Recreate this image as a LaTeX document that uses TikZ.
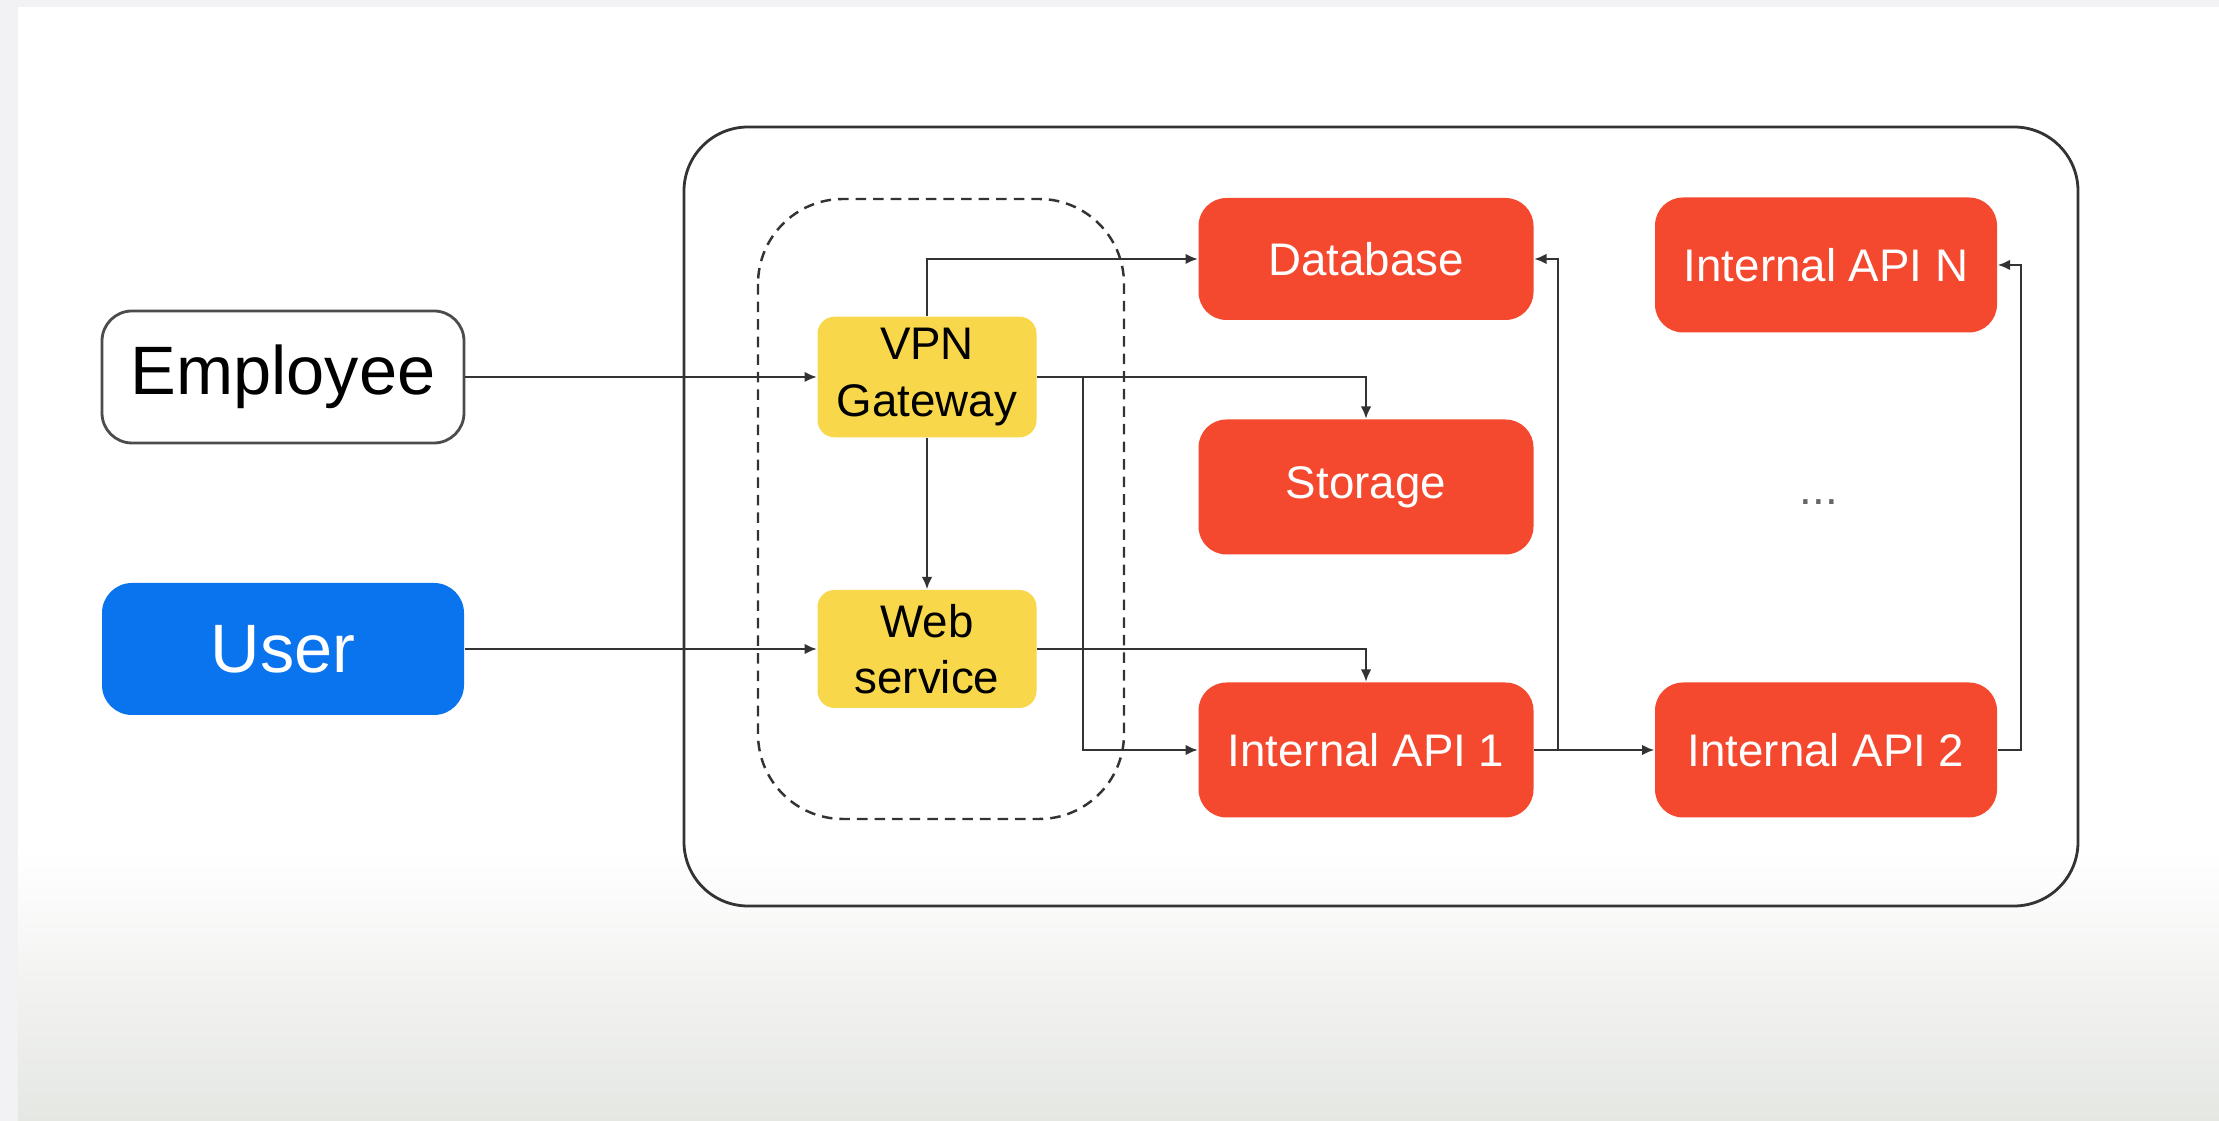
\documentclass[tikz,border=0pt]{standalone}
\usepackage{fontspec}
\setmainfont{Liberation Sans}
\usetikzlibrary{arrows.meta}
\definecolor{apired}{HTML}{F4492F}
\definecolor{gwyellow}{HTML}{F8D84A}
\definecolor{userblue}{HTML}{0A73EE}
\definecolor{bgside}{HTML}{F2F2F4}
\definecolor{bgfloor}{HTML}{E5E7E3}

\begin{document}
\begin{tikzpicture}[
  actor/.style={rounded corners=0.3cm, minimum width=3.62cm, minimum height=1.32cm,
    font=\fontsize{19.5}{23}\selectfont},
  gateway/.style={fill=gwyellow, rounded corners=0.17cm, minimum width=2.19cm,
    minimum height=1.18cm, align=center, font=\fontsize{13}{16}\selectfont},
  service/.style={fill=apired, text=white, rounded corners=0.28cm, minimum width=3.35cm,
    minimum height=1.35cm, font=\fontsize{13}{16}\selectfont},
  link/.style={draw=black!80, line width=0.6pt, -{Latex[length=3.5pt,width=3pt]}}
]
\useasboundingbox (0,0) rectangle (22.19,-11.21);
\fill[bgside] (0,0) rectangle (22.19,-11.21);
\fill[white] (0.18,-0.07) rectangle (22.19,-8.5);
\shade[top color=white, bottom color=bgfloor] (0.18,-8.5) rectangle (22.19,-11.21);

% system boundary and gateway group
\draw[black!80, line width=0.8pt, rounded corners=0.64cm] (6.84,-1.27) rectangle (20.78,-9.06);
\draw[black!80, line width=0.7pt, dash pattern=on 3pt off 2pt, rounded corners=0.85cm]
  (7.58,-1.99) rectangle (11.24,-8.19);

\node[actor, draw=black!70, line width=0.8pt, fill=white] (emp) at (2.83,-3.77) {Employee};
\node[actor, fill=userblue, text=white] (user) at (2.83,-6.49) {User};

\node[gateway] (vpn) at (9.27,-3.77) {VPN\\Gateway};
\node[gateway] (web) at (9.27,-6.49) {Web\\service};

\node[service, minimum height=1.22cm] (db) at (13.66,-2.59) {Database};
\node[service] (store) at (13.66,-4.87) {Storage};
\node[service] (api1) at (13.66,-7.50) {Internal API 1};
\node[service, minimum width=3.42cm] (apin) at (18.26,-2.65) {Internal API N};
\node[service, minimum width=3.42cm] (api2) at (18.26,-7.50) {Internal API 2};
\node[text=black!60, font=\fontsize{13}{16}\selectfont] (more) at (18.19,-5.02) {...};

\draw[link] (emp) -- (vpn);
\draw[link] (user) -- (web);
\draw[link] (vpn) -- (web);
\draw[link] (vpn.north) |- (db.west);
\draw[link] (vpn.east) -| (store.north);
\draw[link] (vpn.east) -- ++(0.46,0) |- (api1.west);
\draw[link] (web.east) -| (api1.north);
\draw[link] (api1.east) -- ++(0.24,0) |- (db.east);
\draw[link] (api1.east) -- (api2.west);
\draw[link] (api2.east) -- ++(0.23,0) |- (apin.east);

\end{tikzpicture}
\end{document}
